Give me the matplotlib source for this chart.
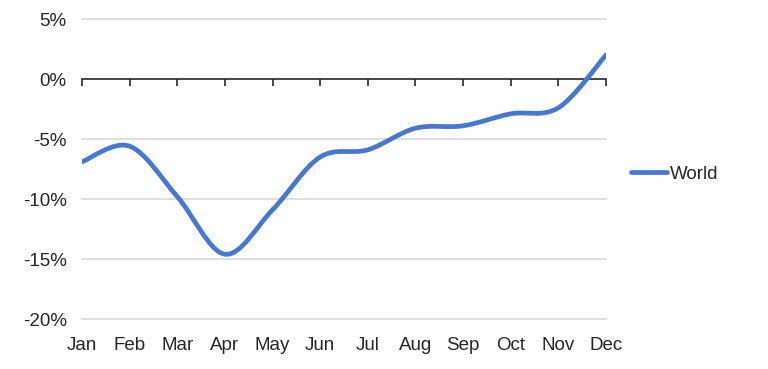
import numpy as np
import matplotlib
matplotlib.use("Agg")
import matplotlib.pyplot as plt
from matplotlib.path import Path
from matplotlib.patches import PathPatch
from matplotlib.lines import Line2D
from matplotlib.ticker import FuncFormatter

months = ["Jan", "Feb", "Mar", "Apr", "May", "Jun",
          "Jul", "Aug", "Sep", "Oct", "Nov", "Dec"]
world = [-6.9, -5.6, -9.8, -14.6, -10.9, -6.5,
         -5.9, -4.1, -3.9, -2.9, -2.4, 2.0]
y_ticks = [5, 0, -5, -10, -15, -20]

line_color = "#4677d3"
text_color = "#262626"

plt.rcParams["font.family"] = ["Liberation Sans", "DejaVu Sans"]
plt.rcParams["font.size"] = 13.5


def smooth_path(xs, ys):
    """Bezier path through the points, like Excel's smoothed line"""
    pts = np.column_stack([xs, ys]).astype(float)
    n = len(pts)
    verts = [pts[0]]
    codes = [Path.MOVETO]
    for i in range(n - 1):
        p0 = pts[max(i - 1, 0)]
        p1 = pts[i]
        p2 = pts[i + 1]
        p3 = pts[min(i + 2, n - 1)]
        c1 = p1 + (p2 - p0) / 6.0
        c2 = p2 - (p3 - p1) / 6.0
        verts += [c1, c2, p2]
        codes += [Path.CURVE4] * 3
    return Path(verts, codes)


fig = plt.figure(figsize=(7.68, 3.69), dpi=100)
ax = fig.add_axes([82 / 768, 1 - 319 / 369, (606 - 82) / 768, 300 / 369])

x = np.arange(len(months))
ax.add_patch(PathPatch(smooth_path(x, world), fill=False,
                       edgecolor=line_color, lw=3.4,
                       capstyle="round", joinstyle="round", zorder=3))

ax.set_xlim(x[0], x[-1])
ax.set_ylim(-20, 5)
ax.set_yticks(y_ticks)
ax.yaxis.set_major_formatter(FuncFormatter(lambda v, p: f"{int(v)}%"))
ax.set_xticks(x)
ax.set_xticklabels(months)

for s in ax.spines.values():
    s.set_visible(False)
ax.tick_params(axis="both", length=0, colors=text_color)
ax.tick_params(axis="y", pad=11)
ax.tick_params(axis="x", pad=13)

for v in y_ticks:
    if v != 0:
        ax.axhline(v, color="#d9d9d9", lw=1.2, zorder=1, clip_on=False)

# zero axis with tick marks
zero_ax = ax.secondary_xaxis((0 - (-20)) / 25)
zero_ax.set_xticks(x)
zero_ax.set_xticklabels([])
zero_ax.tick_params(axis="x", direction="in", length=5, width=1.2,
                    color="#262626")
for name in ("top", "bottom"):
    zero_ax.spines[name].set_color("#262626")
    zero_ax.spines[name].set_linewidth(1.2)

handle = Line2D([], [], color=line_color, lw=3.4, solid_capstyle="round")
ax.legend([handle], ["World"], loc="center left",
          bbox_to_anchor=(1.03, 0.483), frameon=False,
          handlelength=1.9, handletextpad=0.15, borderpad=0,
          labelcolor=text_color)

fig.savefig("out.png", dpi=100)
